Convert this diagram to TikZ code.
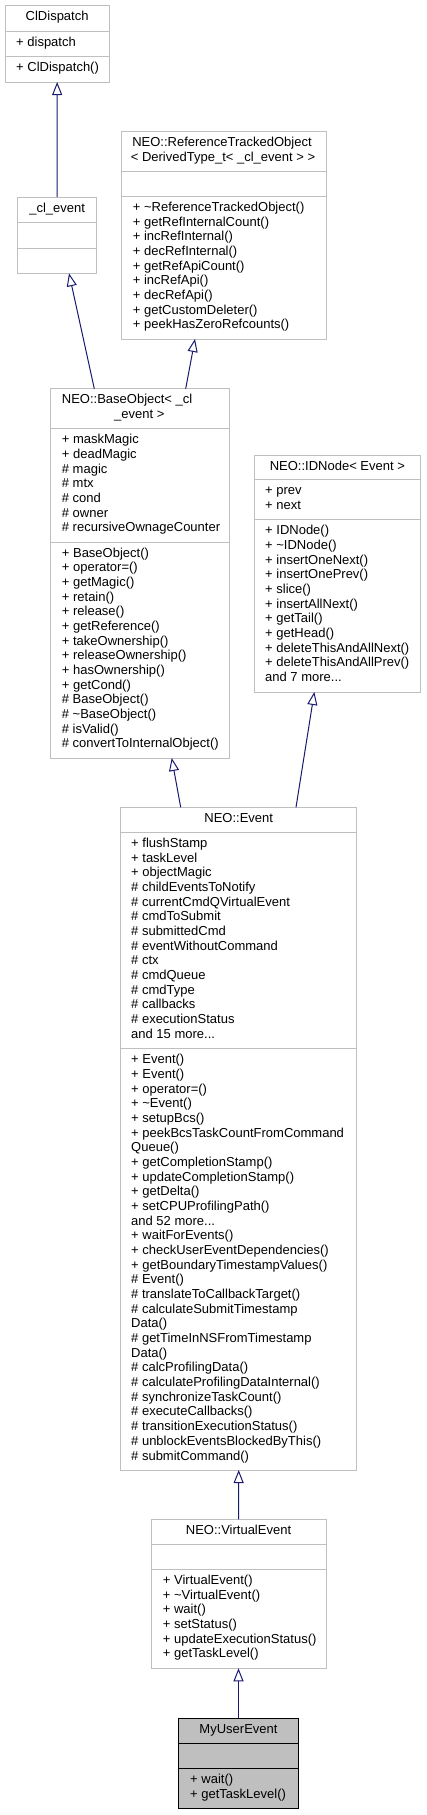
\documentclass[tikz,border=0pt]{standalone}
\usepackage{fontspec}
\setmainfont{Liberation Sans}
\usetikzlibrary{arrows.meta}
\definecolor{boxgray}{HTML}{BFBFBF}
\definecolor{edgeblue}{HTML}{191970}
\tikzset{
 box/.style={draw=boxgray, line width=1pt, inner sep=0pt, outer sep=0pt, anchor=north west},
 userbox/.style={box, draw=black, fill=boxgray},
 divline/.style={draw=boxgray, line width=1pt},
 userdiv/.style={draw=black, line width=1pt},
 txt/.style={inner sep=0pt, align=left, anchor=north west, font=\fontsize{13}{14.67}\selectfont},
 ttl/.style={inner sep=0pt, anchor=base, font=\fontsize{13}{14.67}\selectfont},
 inh/.style={draw=edgeblue, line width=1pt, -{Triangle[open, length=13pt, width=10pt]}},
}
\newcommand\umlbox[6]{\node[#1, minimum width={#5pt-#3pt}, minimum height={#6pt-#4pt}] (#2) at (#3,#4) {};}
\begin{document}
\begin{tikzpicture}[x=1pt,y=-1pt]
\useasboundingbox (0,0) rectangle (426,1815);

% ClDispatch
\umlbox{box}{cld}{5}{5.7}{109.3}{82}
\draw[divline] (5,31.7) -- (109.3,31.7);
\draw[divline] (5,56.7) -- (109.3,56.7);
\node[ttl] (cldt) at (57.15,20.7) {ClDispatch};
\node[txt] (clda) at (16,36.43) {\strut + dispatch};
\node[txt] (cldm) at (16,61.43) {\strut + ClDispatch()};

% _cl_event
\umlbox{box}{cle}{17.7}{197}{96.7}{273.3}
\draw[divline] (17.7,222.3) -- (96.7,222.3);
\draw[divline] (17.7,248) -- (96.7,248);
\node[ttl] (clet) at (57.2,212) {\_cl\_event};

% ReferenceTrackedObject
\umlbox{box}{rto}{121.3}{131.3}{326.7}{339}
\draw[divline] (121.3,171.3) -- (326.7,171.3);
\draw[divline] (121.3,196.3) -- (326.7,196.3);
\node[ttl] (rtot1) at (222,146.5) {NEO::ReferenceTrackedObject};
\node[ttl] (rtot2) at (223,161.2) {< DerivedType\_t< \_cl\_event > >};
\node[txt] (rtom) at (132.7,201.03) {\strut + \textasciitilde ReferenceTrackedObject()\\\strut + getRefInternalCount()\\\strut + incRefInternal()\\\strut + decRefInternal()\\\strut + getRefApiCount()\\\strut + incRefApi()\\\strut + decRefApi()\\\strut + getCustomDeleter()\\\strut + peekHasZeroRefcounts()};

% BaseObject
\umlbox{box}{bo}{50.3}{388.7}{229.3}{758}
\draw[divline] (50.3,428.7) -- (229.3,428.7);
\draw[divline] (50.3,542) -- (229.3,542);
\node[ttl, anchor=base west] (bot1) at (61.7,403.7) {NEO::BaseObject< \_cl};
\node[ttl] (bot2) at (139.3,418.4) {\_event >};
\node[txt] (boa) at (61.7,433.43) {\strut + maskMagic\\\strut + deadMagic\\\strut \# magic\\\strut \# mtx\\\strut \# cond\\\strut \# owner\\\strut \# recursiveOwnageCounter};
\node[txt] (bom) at (61.7,546.73) {\strut + BaseObject()\\\strut + operator=()\\\strut + getMagic()\\\strut + retain()\\\strut + release()\\\strut + getReference()\\\strut + takeOwnership()\\\strut + releaseOwnership()\\\strut + hasOwnership()\\\strut + getCond()\\\strut \# BaseObject()\\\strut \# \textasciitilde BaseObject()\\\strut \# isValid()\\\strut \# convertToInternalObject()};

% IDNode
\umlbox{box}{idn}{254}{455}{420.7}{692}
\draw[divline] (254,479.7) -- (420.7,479.7);
\draw[divline] (254,519.7) -- (420.7,519.7);
\node[ttl] (idnt) at (337.35,470) {NEO::IDNode< Event >};
\node[txt] (idna) at (265,484.43) {\strut + prev\\\strut + next};
\node[txt] (idnm) at (265,524.43) {\strut + IDNode()\\\strut + \textasciitilde IDNode()\\\strut + insertOneNext()\\\strut + insertOnePrev()\\\strut + slice()\\\strut + insertAllNext()\\\strut + getTail()\\\strut + getHead()\\\strut + deleteThisAndAllNext()\\\strut + deleteThisAndAllPrev()\\\strut and 7 more...};

% Event
\umlbox{box}{ev}{120.7}{807.3}{356.7}{1470}
\draw[divline] (120.7,832.3) -- (356.7,832.3);
\draw[divline] (120.7,1048.7) -- (356.7,1048.7);
\node[ttl] (evt) at (238.7,822.3) {NEO::Event};
\node[txt] (eva) at (131,837.03) {\strut + flushStamp\\\strut + taskLevel\\\strut + objectMagic\\\strut \# childEventsToNotify\\\strut \# currentCmdQVirtualEvent\\\strut \# cmdToSubmit\\\strut \# submittedCmd\\\strut \# eventWithoutCommand\\\strut \# ctx\\\strut \# cmdQueue\\\strut \# cmdType\\\strut \# callbacks\\\strut \# executionStatus\\\strut and 15 more...};
\node[txt] (evm) at (131,1053.43) {\strut + Event()\\\strut + Event()\\\strut + operator=()\\\strut + \textasciitilde Event()\\\strut + setupBcs()\\\strut + peekBcsTaskCountFromCommand\\\strut Queue()\\\strut + getCompletionStamp()\\\strut + updateCompletionStamp()\\\strut + getDelta()\\\strut + setCPUProfilingPath()\\\strut and 52 more...\\\strut + waitForEvents()\\\strut + checkUserEventDependencies()\\\strut + getBoundaryTimestampValues()\\\strut \# Event()\\\strut \# translateToCallbackTarget()\\\strut \# calculateSubmitTimestamp\\\strut Data()\\\strut \# getTimeInNSFromTimestamp\\\strut Data()\\\strut \# calcProfilingData()\\\strut \# calculateProfilingDataInternal()\\\strut \# synchronizeTaskCount()\\\strut \# executeCallbacks()\\\strut \# transitionExecutionStatus()\\\strut \# unblockEventsBlockedByThis()\\\strut \# submitCommand()};

% VirtualEvent
\umlbox{box}{ve}{151}{1519.3}{326}{1668.3}
\draw[divline] (151,1544.3) -- (326,1544.3);
\draw[divline] (151,1569.3) -- (326,1569.3);
\node[ttl] (vet) at (238.5,1534.3) {NEO::VirtualEvent};
\node[txt] (vem) at (162.7,1574.03) {\strut + VirtualEvent()\\\strut + \textasciitilde VirtualEvent()\\\strut + wait()\\\strut + setStatus()\\\strut + updateExecutionStatus()\\\strut + getTaskLevel()};

% MyUserEvent
\umlbox{userbox}{mue}{178.3}{1718}{298.7}{1808}
\draw[userdiv] (178.3,1743.3) -- (298.7,1743.3);
\draw[userdiv] (178.3,1768.7) -- (298.7,1768.7);
\node[ttl] (muet) at (238.5,1733) {MyUserEvent};
\node[txt] (muem) at (190,1773.43) {\strut + wait()\\\strut + getTaskLevel()};

% inheritance arrows
\draw[inh] (cle.north) -- (cld.south);
\draw[inh] ([xshift=-45.5pt]bo.north) -- ([xshift=11.8pt]cle.south);
\draw[inh] ([xshift=45.9pt]bo.north) -- ([xshift=-29pt]rto.south);
\draw[inh] ([xshift=-58pt]ev.north) -- ([xshift=31.9pt]bo.south);
\draw[inh] ([xshift=57.3pt]ev.north) -- ([xshift=-23pt]idn.south);
\draw[inh] (ve.north) -- (ev.south);
\draw[inh] (mue.north) -- (ve.south);
\end{tikzpicture}
\end{document}
